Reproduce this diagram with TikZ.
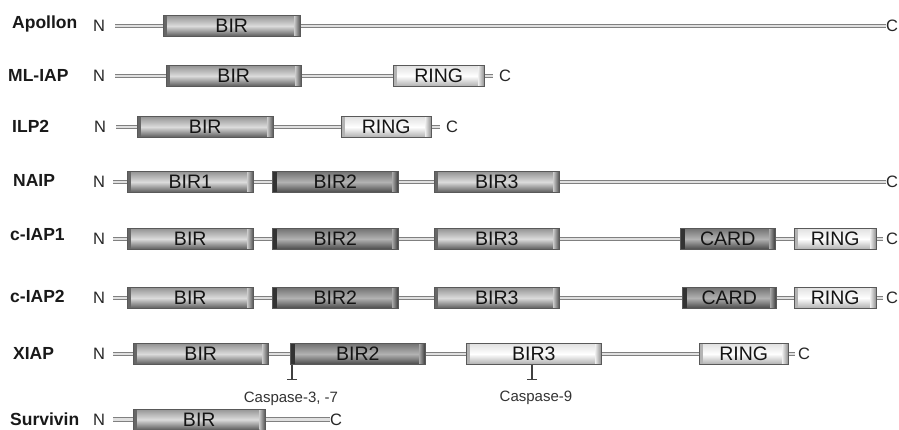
\documentclass[tikz,border=0pt]{standalone}
\usepackage{fontspec}
\setmainfont{Liberation Sans}
\usetikzlibrary{arrows.meta}
\tikzset{
  lab/.style={font=\bfseries\fontsize{17.5}{20}\selectfont, anchor=base west, inner sep=0pt, text=black!90},
  nt/.style={font=\fontsize{16.5}{18}\selectfont, inner sep=0pt, text=black!85},
  ct/.style={nt, anchor=west},
  cas/.style={font=\fontsize{15}{17}\selectfont, inner sep=0pt, anchor=base, text=black!80},
  link/.style={draw=black!50, line width=0.9pt, double=black!12, double distance=2.8pt},
  inhib/.style={draw=black!75, line width=1.5pt, -{Bar[width=10pt,line width=1.5pt]}},
  dom/.style={draw=black!65, line width=0.5pt, minimum height=21pt, inner sep=0pt, anchor=west,
    font=\fontsize{19.5}{21}\selectfont, text=black!92},
  med/.style={dom, top color=black!42, bottom color=black!65, middle color=black!14,
    path picture={
      \shade[left color=black!60, right color=black!38] (path picture bounding box.south west) rectangle ([xshift=3pt]path picture bounding box.north west);
      \shade[left color=black!22, right color=black!68] ([xshift=-6pt]path picture bounding box.south east) rectangle (path picture bounding box.north east);}},
  drk/.style={dom, top color=black!55, bottom color=black!72, middle color=black!30,
    path picture={
      \fill[black!80] (path picture bounding box.south west) rectangle ([xshift=5pt]path picture bounding box.north west);
      \shade[left color=black!35, right color=black!78] ([xshift=-6pt]path picture bounding box.south east) rectangle (path picture bounding box.north east);}},
  lgt/.style={dom, top color=black!12, bottom color=black!32, middle color=white,
    path picture={
      \shade[left color=black!30, right color=black!8] (path picture bounding box.south west) rectangle ([xshift=3pt]path picture bounding box.north west);
      \shade[left color=black!8, right color=black!45] ([xshift=-6pt]path picture bounding box.south east) rectangle (path picture bounding box.north east);}},
}
\newcommand\domainbox[6]{\node[#1, minimum width=#4-#3] (#2) at (#3,#5) {#6};}
\begin{document}
\begin{tikzpicture}[x=1pt,y=-1pt]
\useasboundingbox (0,0) rectangle (899,430);
\fill[white] (0,0) rectangle (899,430);

% Row 1: Apollon
\node[lab] (l1) at (12,28.3) {Apollon};
\node[nt] (n1) at (99,26) {N};
\coordinate (s1) at (115,26);
\domainbox{med}{a1}{163}{300}{26}{BIR}
\node[ct] (c1) at (886,26) {C};
\draw[link] (s1) -- (a1.west);
\draw[link] (a1.east) -- (c1.west);

% Row 2: ML-IAP
\node[lab] (l2) at (8,81.8) {ML-IAP};
\node[nt] (n2) at (99,76) {N};
\coordinate (s2) at (115,76);
\domainbox{med}{b2}{166}{301}{76}{BIR}
\domainbox{lgt}{r2}{393}{484}{76}{RING}
\coordinate (e2) at (493,76);
\node[ct] (c2) at (499,76) {C};
\draw[link] (s2) -- (b2.west);
\draw[link] (b2.east) -- (r2.west);
\draw[link] (r2.east) -- (e2);

% Row 3: ILP2
\node[lab] (l3) at (12,132.5) {ILP2};
\node[nt] (n3) at (100,127) {N};
\coordinate (s3) at (116,127);
\domainbox{med}{b3}{137}{273}{127}{BIR}
\domainbox{lgt}{r3}{341}{431}{127}{RING}
\coordinate (e3) at (440,127);
\node[ct] (c3) at (446,127) {C};
\draw[link] (s3) -- (b3.west);
\draw[link] (b3.east) -- (r3.west);
\draw[link] (r3.east) -- (e3);

% Row 4: NAIP
\node[lab] (l4) at (13,186.3) {NAIP};
\node[nt] (n4) at (99,182) {N};
\coordinate (s4) at (113,182);
\domainbox{med}{b41}{127}{253}{182}{BIR1}
\domainbox{drk}{b42}{272}{398}{182}{BIR2}
\domainbox{med}{b43}{434}{559}{182}{BIR3}
\node[ct] (c4) at (886,182) {C};
\draw[link] (s4) -- (b41.west);
\draw[link] (b41.east) -- (b42.west);
\draw[link] (b42.east) -- (b43.west);
\draw[link] (b43.east) -- (c4.west);

% Row 5: c-IAP1
\node[lab] (l5) at (10,240.8) {c-IAP1};
\node[nt] (n5) at (99,239) {N};
\coordinate (s5) at (113,239);
\domainbox{med}{b51}{127}{253}{239}{BIR}
\domainbox{drk}{b52}{272}{398}{239}{BIR2}
\domainbox{med}{b53}{434}{559}{239}{BIR3}
\domainbox{drk}{k5}{680}{775}{239}{CARD}
\domainbox{lgt}{r5}{794}{876}{239}{RING}
\coordinate (e5) at (883,239);
\node[ct] (c5) at (886,239) {C};
\draw[link] (s5) -- (b51.west);
\draw[link] (b51.east) -- (b52.west);
\draw[link] (b52.east) -- (b53.west);
\draw[link] (b53.east) -- (k5.west);
\draw[link] (k5.east) -- (r5.west);
\draw[link] (r5.east) -- (e5);

% Row 6: c-IAP2
\node[lab] (l6) at (10,302.3) {c-IAP2};
\node[nt] (n6) at (99,298) {N};
\coordinate (s6) at (113,298);
\domainbox{med}{b61}{127}{253}{298}{BIR}
\domainbox{drk}{b62}{272}{398}{298}{BIR2}
\domainbox{med}{b63}{434}{559}{298}{BIR3}
\domainbox{drk}{k6}{682}{776}{298}{CARD}
\domainbox{lgt}{r6}{794}{876}{298}{RING}
\coordinate (e6) at (883,298);
\node[ct] (c6) at (886,298) {C};
\draw[link] (s6) -- (b61.west);
\draw[link] (b61.east) -- (b62.west);
\draw[link] (b62.east) -- (b63.west);
\draw[link] (b63.east) -- (k6.west);
\draw[link] (k6.east) -- (r6.west);
\draw[link] (r6.east) -- (e6);

% Row 7: XIAP
\node[lab] (l7) at (13,359.8) {XIAP};
\node[nt] (n7) at (99,354) {N};
\coordinate (s7) at (113,354);
\domainbox{med}{b71}{133}{268}{354}{BIR}
\domainbox{drk}{b72}{290}{425}{354}{BIR2}
\domainbox{lgt}{b73}{466}{601}{354}{BIR3}
\domainbox{lgt}{r7}{699}{788}{354}{RING}
\coordinate (e7) at (795,354);
\node[ct] (c7) at (798,354) {C};
\draw[link] (s7) -- (b71.west);
\draw[link] (b71.east) -- (b72.west);
\draw[link] (b72.east) -- (b73.west);
\draw[link] (b73.east) -- (r7.west);
\draw[link] (r7.east) -- (e7);

% inhibition marks
\coordinate (t1) at (292,380);
\coordinate (t2) at (532,380);
\draw[inhib] (b72.south -| t1) -- (t1);
\draw[inhib] (b73.south -| t2) -- (t2);
\node[cas] (k1) at (291,402) {Caspase-3, -7};
\node[cas] (k2) at (536,401) {Caspase-9};

% Row 8: Survivin
\node[lab] (l8) at (10,425.5) {Survivin};
\node[nt] (n8) at (99,419.5) {N};
\coordinate (s8) at (113,419.5);
\domainbox{med}{b81}{133}{265}{419.5}{BIR}
\node[ct] (c8) at (330,419.5) {C};
\draw[link] (s8) -- (b81.west);
\draw[link] (b81.east) -- (c8.west);
\end{tikzpicture}
\end{document}
